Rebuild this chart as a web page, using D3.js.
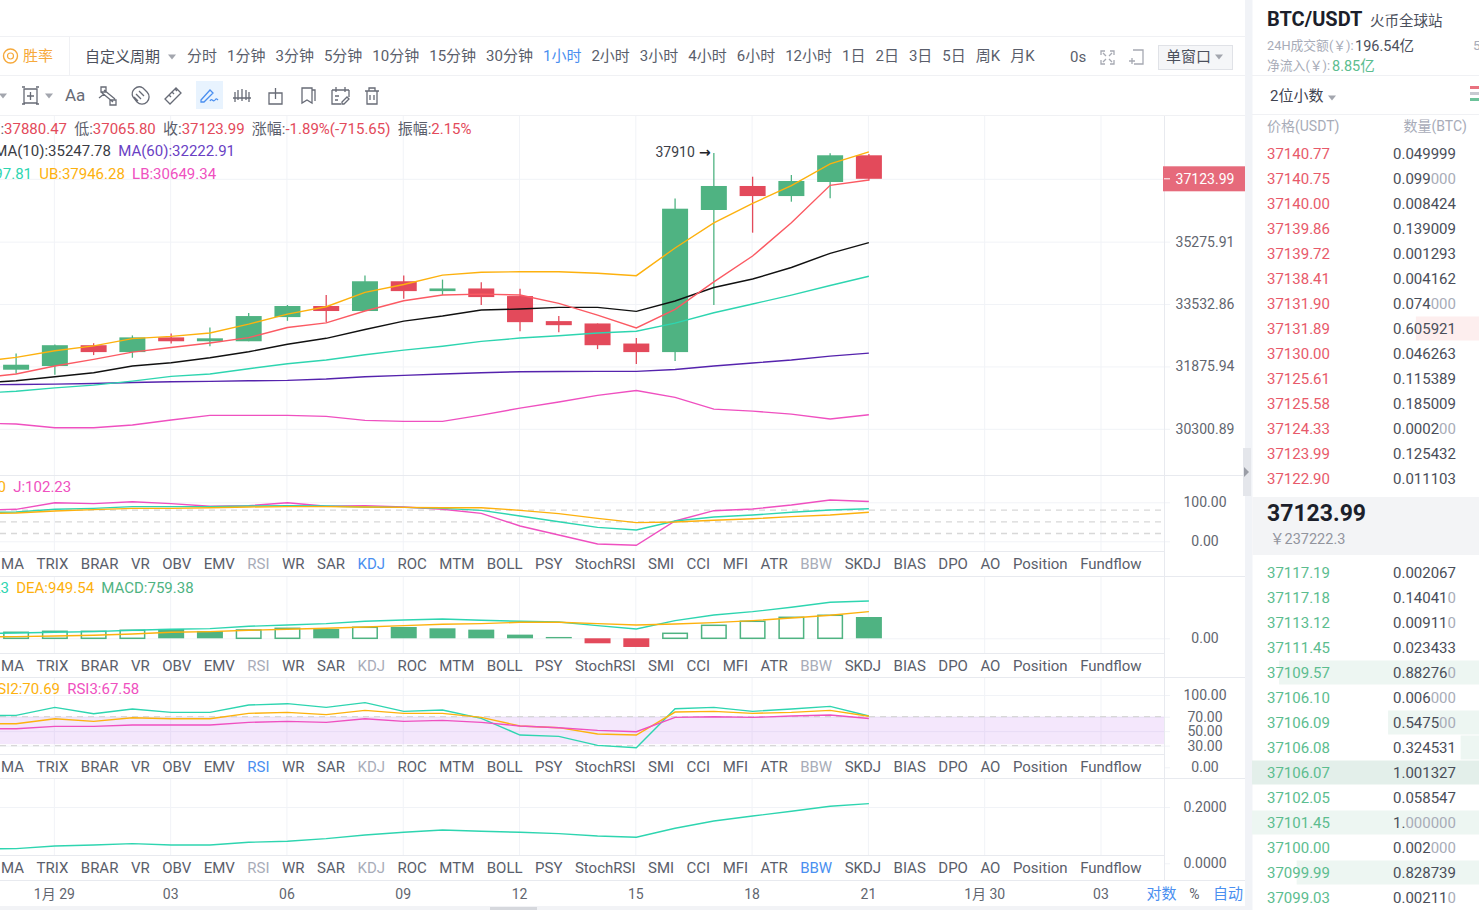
<!DOCTYPE html>
<html>
<head>
<meta charset="utf-8">
<script src="https://cdn.jsdelivr.net/npm/d3@7"></script>
<style>
  html, body { margin: 0; padding: 0; background: #fff; overflow: hidden; }
  text { font-family: Roboto, "Noto Sans CJK SC", sans-serif; }
</style>
</head>
<body>
<div id="chart"></div>
<script>
// candles, oldest first
var opens  = [31791,31886,32430,32249,32637,32534,32534,33179,33479,33343,34159,33887,33960,33751,33071,33008,32474,32249,36195,36908,36607,37028,37839.64]
var highs  = [32215,32448,32482,32689,32741,32899,33288,33506,33778,34322,34322,34205,34131,33949,33207,33008,32619,36537,37910,37187,37238,37905,37880.47]
var lows   = [31687,31661,32171,32101,32474,32404,32534,33079,33043,33343,33677,33778,33506,32799,32771,32327,31938,32016,33506,35534,36440,36545,37065.80]
var closes = [31920,32430,32249,32637,32534,32612,33207,33479,33343,34159,33887,33960,33723,33043,32962,32430,32249,36233,36908,36607,37058,37840,37123.99]

// overlay lines start one bar earlier, off the left edge
var ma5  = [31576,31679,31886,32060,32249,32371,32490,32630,32899,33024,33343,33623,33778,33805,33778,33552,33234,32888,33389,34140,34866,35820,36928,37088]
var ma10 = [31446,31506,31609,31713,31886,31972,32101,32257,32456,32612,32847,33071,33207,33370,33397,33443,33443,33334,33615,33987,34221,34543,34944,35247.78]
var ma60 = [31402,31412,31420,31438,31464,31480,31490,31506,31516,31550,31609,31646,31679,31713,31739,31744,31749,31749,31796,31886,31964,32042,32145,32222.91]
var mb   = [31187,31239,31324,31394,31498,31620,31679,31816,31946,32042,32179,32301,32404,32530,32619,32681,32752,32799,33016,33296,33533,33778,34042,34297.81]
var ub   = [31990,32112,32283,32412,32604,32663,32752,32989,33261,33460,33851,34069,34330,34412,34423,34423,34384,34314,35095,35820,36390,36918,37576,37946.28]
var lb   = [30444,30419,30328,30328,30394,30517,30633,30633,30633,30608,30510,30485,30485,30640,30813,30968,31134,31257,31083,30788,30739,30665,30542,30649.34]

var kdjK = [74,75.1,82,84.5,88.8,88.8,88.8,90.5,91.4,90.5,88,87.1,84.5,79.4,64.9,50.3,35.8,29,52,62.3,67.4,74.3,80.3,83.61]
var kdjD = [71,72.6,77.7,81.1,84.5,84.5,86.2,88,88.8,88.8,88,87.1,86.2,86.2,79.4,70.9,58.9,47.8,49.5,53.8,58,63.2,67.4,74.30]
var kdjJ = [80,82,99,96.5,101.6,96.5,89.7,91.4,99,89.7,91.4,88,82,71.7,39.2,16.2,-6.9,-10.3,52,78.5,82.8,93,105.9,102.23]

var macdHist = [214,249,249,285,333,261,297,356,333,392,404,356,309,131,48,-178,-309,178,463,606,748,820,759.38]
var macdFalling = [0,0,0,0,1,1,0,0,1,0,1,1,1,1,1,1,1,0,0,0,0,0,1]
var dif = [166,190,214,238,285,321,345,428,475,523,606,653,689,642,606,582,451,333,630,832,950,1105,1283,1329.23]
var dea = [48,59,83,107,154,214,238,285,321,356,404,451,499,523,570,570,523,475,511,558,630,725,820,949.54]

var rsi1 = [71.4,71.8,82.9,74.1,80.6,76,76,86.1,88,82.9,89.4,77.4,79.2,67.7,44.6,42.8,30.3,27.1,81,82.9,77.4,80.6,84.3,70.9]
var rsi2 = [60.3,60.3,67.2,63.5,68.6,67.2,67.2,74.6,76,72.8,78.7,74.6,74.6,69,57.1,54.8,46,44.6,76.4,77.4,74.6,76,78.7,70.69]
var rsi3 = [53.4,53.4,56.6,56.6,58.5,58.5,58.5,62.2,63.5,62.2,67.2,63.5,64.9,62.2,57.1,54.8,51.1,49.2,69,70,69,70.9,72.3,67.58]

var bbw = [.0509,.0521,.0616,.0651,.0699,.0651,.0651,.0746,.0781,.0876,.1006,.1101,.1184,.1137,.1101,.1054,.0971,.0924,.1243,.1504,.1681,.1847,.2025,.2119]

var xTickBars = [1,4,7,10,13,16,19,22,25,28]
var xTickLabels = ['1月 29','03','06','09','12','15','18','21','1月 30','03']
var priceTicks = [37123.99,35275.91,33532.86,31875.94,30300.89]
var kdjTicks = [100,0]
var kdjGuides = [80,50,20]
var macdTicks = [0]
var rsiTicks = [100,70,50,30,0]
var rsiGuides = [70,30]
var rsiBand = [70,32]
var bbwTicks = [0.2,0]

var tabNames = ['MA','TRIX','BRAR','VR','OBV','EMV','RSI','WR','SAR','KDJ','ROC','MTM','BOLL','PSY','StochRSI','SMI','CCI','MFI','ATR','BBW','SKDJ','BIAS','DPO','AO','Position','Fundflow']
var periods = ['分时','1分钟','3分钟','5分钟','10分钟','15分钟','30分钟','1小时','2小时','3小时','4小时','6小时','12小时','1日','2日','3日','5日','周K','月K']

var askPrices = ['37140.77','37140.75','37140.00','37139.86','37139.72','37138.41','37131.90','37131.89','37130.00','37125.61','37125.58','37124.33','37123.99','37122.90']
var askQty = ['0.049999','0.099000','0.008424','0.139009','0.001293','0.004162','0.074000','0.605921','0.046263','0.115389','0.185009','0.000200','0.125432','0.011103']
var bidPrices = ['37117.19','37117.18','37113.12','37111.45','37109.57','37106.10','37106.09','37106.08','37106.07','37102.05','37101.45','37100.00','37099.99','37099.03']
var bidQty = ['0.002067','0.140410','0.009110','0.023433','0.882760','0.006000','0.547500','0.324531','1.001327','0.058547','1.000000','0.002000','0.828739','0.002110']

var green = '#4fb382', red = '#e34a5b', teal = '#2ed5b0', orange = '#fdb10e', pink = '#ef50c0', purple = '#5523ad'
var blue = '#4a8ff0', textDark = '#5a5e6b', textGray = '#a8acb8', gridColor = '#f1f3f7', rule = '#e8eaef'

var width = 1479, height = 910, plotRight = 1164, axisRight = 1245

var svg = d3.select('#chart').append('svg')
  .attr('width', width).attr('height', height).style('display', 'block')

var x = d3.scaleLinear().domain([0, 22]).range([16.1, 868.9])
var yPrice = d3.scaleLog().domain([30300.89, 37123.99]).range([428.8, 178.8])
var yKdj = d3.scaleLinear().domain([0, 100]).range([541.3, 502.3])
var yMacd = d3.scaleLinear().domain([0, 1000]).range([638.3, 610.25])
var yRsi = d3.scaleLinear().domain([0, 100]).range([767.3, 695])
var yBbw = d3.scaleLinear().domain([0, 0.2]).range([863.3, 807])

var panes = [
  {top: 116, bottom: 475, tabs: null},
  {top: 476, bottom: 551, tabs: 'KDJ', tabEnd: 576},
  {top: 577, bottom: 653, tabs: '', tabEnd: 677},
  {top: 678, bottom: 754, tabs: 'RSI', tabEnd: 778},
  {top: 779, bottom: 855, tabs: 'BBW', tabEnd: 880}
]

function text(g, x0, y0, str, size, color, anchor, weight) {
  return g.append('text').attr('x', x0).attr('y', y0).text(str)
    .attr('font-size', size).attr('fill', color)
    .attr('text-anchor', anchor || 'start').attr('font-weight', weight || 400)
}

function hline(y0, x1, x2, color) {
  svg.append('line').attr('x1', x1).attr('x2', x2).attr('y1', y0).attr('y2', y0)
    .attr('stroke', color || rule).attr('stroke-width', 1)
}

// grid: vertical lines per pane
panes.forEach(function(p) {
  var g = svg.append('g').attr('transform', 'translate(-1,' + p.top + ')')
    .call(d3.axisBottom(x).tickValues(xTickBars).tickSize(p.bottom - p.top).tickFormat(''))
  g.select('.domain').remove()
  g.selectAll('line').attr('stroke', gridColor)
})

// horizontal grid, tick and label all come from one right-facing axis
function valueAxis(scale, ticks, fmt) {
  var g = svg.append('g')
    .call(d3.axisRight(scale).tickValues(ticks).tickSize(1170).tickPadding(35).tickFormat(fmt))
  g.select('.domain').remove()
  g.selectAll('line').attr('stroke', gridColor)
  g.selectAll('text').attr('text-anchor', 'middle').attr('font-size', 14).attr('fill', '#62666f')
    .style('font-family', 'Roboto')
}
var f2 = d3.format('.2f')
valueAxis(yPrice, priceTicks, f2)
valueAxis(yKdj, kdjTicks, f2)
valueAxis(yMacd, macdTicks, f2)
valueAxis(yRsi, rsiTicks, f2)
valueAxis(yBbw, bbwTicks, d3.format('.4f'))

// rsi band and dashed guides sit under the lines
svg.append('rect').attr('x', 0).attr('width', plotRight)
  .attr('y', yRsi(rsiBand[0])).attr('height', yRsi(rsiBand[1]) - yRsi(rsiBand[0]))
  .attr('fill', '#b45ee8').attr('fill-opacity', 0.15)

function guides(scale, values) {
  svg.selectAll(null).data(values).enter().append('line')
    .attr('x1', 0).attr('x2', plotRight)
    .attr('y1', scale).attr('y2', scale)
    .attr('stroke', '#d8d8d8').attr('stroke-width', 1.3).attr('stroke-dasharray', '6,5')
}
guides(yKdj, kdjGuides)
guides(yRsi, rsiGuides)

// candles
var candles = opens.map(function(o, i) {
  return {i: i, o: o, h: highs[i], l: lows[i], c: closes[i]}
})
var candle = svg.selectAll('.candle').data(candles).enter().append('g').attr('class', 'candle')
candle.append('line')
  .attr('x1', function(d) { return x(d.i) }).attr('x2', function(d) { return x(d.i) })
  .attr('y1', function(d) { return yPrice(d.h) }).attr('y2', function(d) { return yPrice(d.l) })
  .attr('stroke', function(d) { return d.c >= d.o ? green : red }).attr('stroke-width', 1.3)
candle.append('rect')
  .attr('x', function(d) { return x(d.i) - 13 }).attr('width', 26)
  .attr('y', function(d) { return yPrice(Math.max(d.o, d.c)) })
  .attr('height', function(d) { return Math.abs(yPrice(d.o) - yPrice(d.c)) })
  .attr('fill', function(d) { return d.c >= d.o ? green : red })

function drawLine(values, scale, color, w) {
  var line = d3.line()
    .x(function(d, i) { return x(i - 1) })
    .y(function(d) { return scale(d) })
  svg.append('path').datum(values).attr('d', line)
    .attr('fill', 'none').attr('stroke', color).attr('stroke-width', w || 1.4)
}
drawLine(lb, yPrice, pink)
drawLine(ma60, yPrice, purple)
drawLine(mb, yPrice, teal)
drawLine(ma10, yPrice, '#111')
drawLine(ub, yPrice, orange)
drawLine(ma5, yPrice, '#fb5a63')

drawLine(kdjJ, yKdj, pink)
drawLine(kdjK, yKdj, teal)
drawLine(kdjD, yKdj, orange)

// macd histogram
svg.selectAll('.hist').data(macdHist).enter().append('rect').attr('class', 'hist')
  .attr('x', function(d, i) { return x(i) - (d > 0 && !macdFalling[i] ? 12.25 : 13) })
  .attr('width', function(d, i) { return d > 0 && !macdFalling[i] ? 24.5 : 26 })
  .attr('y', function(d) { return yMacd(Math.max(d, 0)) })
  .attr('height', function(d) { return Math.abs(yMacd(d) - yMacd(0)) })
  .attr('fill', function(d, i) { return d < 0 ? red : macdFalling[i] ? green : '#fff' })
  .attr('stroke', function(d, i) { return d > 0 && !macdFalling[i] ? green : 'none' })
  .attr('stroke-width', 1.5)
drawLine(dif, yMacd, teal)
drawLine(dea, yMacd, orange)

drawLine(rsi1, yRsi, teal)
drawLine(rsi2, yRsi, orange)
drawLine(rsi3, yRsi, pink)
drawLine(bbw, yBbw, teal)

// max marker on the tall candle
var maxBar = d3.range(highs.length).reduce(function(a, b) { return highs[b] > highs[a] ? b : a }, 0)
text(svg, x(maxBar) - 19, yPrice(highs[maxBar]) + 3.5, d3.format('d')(highs[maxBar]), 14, '#3b3e48', 'end')
text(svg, x(maxBar) - 3, yPrice(highs[maxBar]) + 3.5, '→', 14, '#22242a', 'end', 700)
  .style('font-family', 'DejaVu Sans')

// indicator tabs under each sub pane
panes.forEach(function(p) {
  if (p.tabs === null) return
  svg.append('rect').attr('x', 0).attr('y', p.bottom).attr('width', plotRight)
    .attr('height', p.tabEnd - p.bottom).attr('fill', '#fff')
  hline(p.bottom + 0.5, 0, plotRight)
  hline(p.tabEnd + 0.5, 0, axisRight)
  var tx = 1
  tabNames.forEach(function(name) {
    var color = name === p.tabs ? blue : (name === 'RSI' || name === 'KDJ' || name === 'BBW') ? textGray : textDark
    var t = text(svg, tx, (p.bottom + p.tabEnd) / 2 + 5.7, name, 15, color)
    tx += t.node().getComputedTextLength() + 12.48
  })
})
hline(475.5, 0, axisRight)
svg.append('line').attr('x1', plotRight + 0.5).attr('x2', plotRight + 0.5).attr('y1', 116).attr('y2', 880)
  .attr('stroke', rule)

// current price tag
var last = closes[closes.length - 1]
svg.append('rect').attr('x', 1163).attr('y', yPrice(last) - 12.5).attr('width', 82).attr('height', 25).attr('fill', '#e66a7b')
svg.append('line').attr('x1', 1164).attr('x2', 1170).attr('y1', yPrice(last)).attr('y2', yPrice(last)).attr('stroke', '#fff')
text(svg, 1205, yPrice(last) + 5, f2(last), 14, '#fff', 'middle')

// time axis
var timeAxis = svg.append('g').attr('transform', 'translate(-1,880)')
  .call(d3.axisBottom(x).tickValues(xTickBars).tickSize(0).tickPadding(9)
    .tickFormat(function(d, i) { return xTickLabels[i] }))
timeAxis.select('.domain').remove()
timeAxis.selectAll('text').attr('font-size', 14).attr('fill', '#62666f')
text(svg, 1161.5, 899, '对数', 15, blue, 'middle')
text(svg, 1194.5, 899, '%', 14, textDark, 'middle')
text(svg, 1228, 899, '自动', 15, blue, 'middle')
svg.append('rect').attr('x', 0).attr('y', 906).attr('width', axisRight).attr('height', 4).attr('fill', '#f2f3f6')
svg.append('rect').attr('x', 490).attr('y', 907).attr('width', 47).attr('height', 3).attr('fill', '#d6d8dd')

// legends, flowed left to right; the first item of each row is cut by the left edge
function legendRow(y0, endX, items) {
  var tx = endX, first = true
  items.forEach(function(it) {
    var t = svg.append('text').attr('y', y0).attr('font-size', 15)
    it.forEach(function(part) { t.append('tspan').text(part[0]).attr('fill', part[1]) })
    var len = t.node().getComputedTextLength()
    if (first) { t.attr('x', endX - len); first = false }
    else { t.attr('x', tx + 7.2); tx += 7.2 + len }
  })
}
var n = closes.length - 1
legendRow(134, 67, [
  [['高:', textDark], [f2(highs[n]), red]],
  [['低:', textDark], [f2(lows[n]), red]],
  [['收:', textDark], [f2(closes[n]), red]],
  [['涨幅:', textDark], ['-1.89%(-715.65)', red]],
  [['振幅:', textDark], ['2.15%', red]]
])
legendRow(156, 111, [
  [['MA(10):' + f2(ma10[23]), '#3a3c44']],
  [['MA(60):' + f2(ma60[23]), '#6a3fc4']]
])
legendRow(179, 32, [
  [['MB:' + f2(mb[23]), teal]],
  [['UB:' + f2(ub[23]), orange]],
  [['LB:' + f2(lb[23]), pink]]
])
legendRow(492, 6, [
  [['D:' + f2(kdjD[23]), orange]],
  [['J:' + f2(kdjJ[23]), pink]]
])
legendRow(593, 9, [
  [['DIF:' + f2(dif[23]), teal]],
  [['DEA:' + f2(dea[23]), orange]],
  [['MACD:' + f2(macdHist[22]), green]]
])
legendRow(694, 60, [
  [['RSI2:' + f2(rsi2[23]), orange]],
  [['RSI3:' + f2(rsi3[23]), pink]]
])

// top toolbars
hline(36.5, 0, axisRight, '#f0f1f4')
hline(75.5, 0, axisRight, '#f0f1f4')
hline(115.5, 0, axisRight, '#f0f1f4')
svg.append('line').attr('x1', 69.5).attr('x2', 69.5).attr('y1', 36).attr('y2', 75).attr('stroke', '#f0f1f4')

svg.append('circle').attr('cx', 10.5).attr('cy', 56).attr('r', 7).attr('fill', 'none').attr('stroke', '#f6a93b').attr('stroke-width', 1.4)
svg.append('circle').attr('cx', 10.5).attr('cy', 56).attr('r', 3).attr('fill', 'none').attr('stroke', '#f6a93b').attr('stroke-width', 1.2)
text(svg, 23, 61, '胜率', 15, '#f6a93b')
text(svg, 85, 62, '自定义周期', 15, '#4c505c')

function caret(cx, cy, color) {
  svg.append('path').attr('d', d3.line()([[cx - 4, cy - 2.5], [cx + 4, cy - 2.5], [cx, cy + 2.5]]))
    .attr('fill', color || '#a3a6ae')
}
caret(172, 57)

var px = 187
periods.forEach(function(name) {
  var t = text(svg, px, 61, name, 15, name === '1小时' ? blue : '#5a5e6b')
  px += t.node().getComputedTextLength() + 10
})
text(svg, 1070, 61.5, '0s', 15, '#5a5e6b')

function icon(x0, y0, d, color) {
  svg.append('path').attr('transform', 'translate(' + x0 + ',' + y0 + ')').attr('d', d)
    .attr('fill', 'none').attr('stroke', color || '#676b76').attr('stroke-width', 1.3)
}
icon(1100, 50, 'M1 5V1H5M10 1H14V5M1 10V14H5M10 14H14V10M3 3L6 6M12 3L9 6M3 12L6 9M12 12L9 9', '#a6a9b2')
icon(1128, 49, 'M5 1H15V15H6M1 12H7M4 9V15', '#a6a9b2')
svg.append('rect').attr('x', 1158.5).attr('y', 45.5).attr('width', 74).attr('height', 24).attr('fill', '#f5f6f8').attr('stroke', '#e0e2e7')
text(svg, 1166, 62, '单窗口', 15, '#4c505c')
caret(1219, 57)

caret(3, 96)
icon(22, 87, 'M2 2H15V16H2ZM8.5 5V13M5 9H12M0 0H3M14 0H17M0 17H3M14 17H17')
caret(49, 96)
text(svg, 65, 101, 'Aa', 17, '#676b76')
icon(98, 86, 'M3 1H8V6H3ZM3 6L15 16M6 4L17 13M12 14H18V19H12ZM1 12L6 8')
icon(131, 87, 'M2 10A7 7 0 0 1 12 1L16 5A7 7 0 0 1 6 15ZM5 7L10 12M8 4L13 9M3 10L7 14')
icon(164, 87, 'M1 12L12 1L17 6L6 17ZM5 8L7 10M8 5L10 7M11 2L13 4')
svg.append('rect').attr('x', 196).attr('y', 81).attr('width', 27).attr('height', 28).attr('fill', '#e8f3fe')
icon(200, 87, 'M1 13L10 3L13 6L4 15H1ZM10 14C12 10 13 16 15 13C16 11 17 12 18 13', blue)
icon(233, 87, 'M2 5V15M9 2V14M16 5V15M0 11H18M5 3V13M13 3V13')
icon(268, 87, 'M1 6H14V17H1ZM7.5 1V12')
icon(300, 87, 'M2 1H12V16L7 13L2 16ZM12 3H15V14')
icon(331, 87, 'M1 3H18M1 3V17H10M18 3V10M5 0V5M14 0V5M4 9H8M4 13H7M11 15L16 10L18 12L13 17H11Z')
icon(364, 88, 'M1 3H15M3 3V16H13V3M5 3V0H11V3M6 7V12M10 7V12')

// order book side panel
svg.append('rect').attr('x', 1245).attr('y', 0).attr('width', 7.5).attr('height', height).attr('fill', '#f1f3f7')
svg.append('rect').attr('x', 1243).attr('y', 448).attr('width', 8).attr('height', 48).attr('fill', '#e4e6eb')
svg.append('path').attr('d', d3.line()([[1244, 467], [1249, 472], [1244, 477]])).attr('fill', '#9a9da6')

var sx = 1267
text(svg, sx, 26, 'BTC/USDT', 20, '#1c1f2b', 'start', 700)
text(svg, 1370, 26, '火币全球站', 14.5, '#4c505c')
text(svg, sx, 50, '24H成交额(￥):', 12.8, textGray)
text(svg, 1355, 51, '196.54亿', 14.5, '#4c505c')
text(svg, 1473, 50, '5', 13.5, textGray)
text(svg, sx, 70, '净流入(￥):', 12.8, textGray)
text(svg, 1332, 71, '8.85亿', 14.5, '#5cbd8f')
hline(75.5, 1252, width, '#f0f1f4')
text(svg, 1270, 101, '2位小数', 15, '#3f4350')
caret(1332, 98)
svg.append('rect').attr('x', 1470).attr('y', 86).attr('width', 9).attr('height', 3).attr('fill', '#e9727f')
svg.append('rect').attr('x', 1470).attr('y', 92).attr('width', 9).attr('height', 3).attr('fill', '#c7cad1')
svg.append('rect').attr('x', 1470).attr('y', 98).attr('width', 9).attr('height', 3).attr('fill', '#6cc29a')
hline(114.5, 1252, width, '#f0f1f4')
text(svg, sx, 131, '价格(USDT)', 14, textGray)
text(svg, 1467, 131, '数量(BTC)', 14, textGray, 'end')

var askDepth = d3.scaleLinear().domain([0.4121, 1.1]).range([0, 224]).clamp(true)
var bidDepth = d3.scaleLinear().domain([0.268, 0.966]).range([0, 227]).clamp(true)

function bookRows(prices, qty, rowY, color, depth, barColor) {
  prices.forEach(function(price, i) {
    var cy = rowY(i), q = qty[i], w = depth(+q)
    if (w > 0) {
      svg.append('rect').attr('x', width - w).attr('y', cy - 12).attr('width', w).attr('height', 24)
        .attr('fill', price === '37106.07' ? '#e3efea' : barColor)
    }
    text(svg, sx, cy + 5.5, price, 15, color)
    var t = svg.append('text').attr('x', 1393).attr('y', cy + 5.5).attr('font-size', 15)
    var zeros = q.match(/0+$/), head = zeros ? q.slice(0, -zeros[0].length) : q
    t.append('tspan').text(head).attr('fill', '#4a4e59')
    if (zeros) t.append('tspan').text(zeros[0]).attr('fill', textGray)
  })
}
bookRows(askPrices, askQty, d3.scaleLinear().domain([0, 13]).range([153.5, 478.5]), '#e85a6a', askDepth, '#fdeeee')
bookRows(bidPrices, bidQty, d3.scaleLinear().domain([0, 13]).range([572.5, 897.5]), '#5cbd8f', bidDepth, '#edf6f2')

svg.append('rect').attr('x', 1252.5).attr('y', 497).attr('width', width - 1252.5).attr('height', 58).attr('fill', '#f3f4f6')
text(svg, sx, 520.5, f2(last), 23, '#1c1f2b', 'start', 700)
text(svg, 1270, 544, '￥237222.3', 14.5, '#92959e')
</script>
</body>
</html>
